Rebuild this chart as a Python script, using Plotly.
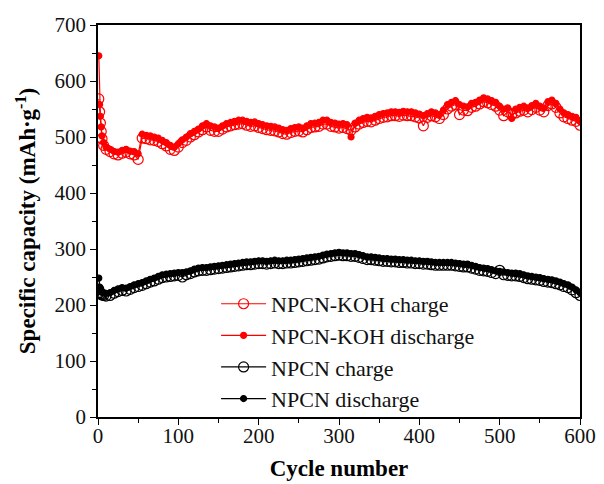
import plotly.graph_objects as go

# cycle numbers sampled along the curves
cycles = [1, 2, 3, 4, 5, 7] + list(range(10, 601, 5))

koh_charge = [
    568, 545, 525, 510, 497, 485,
    478, 474, 470, 468, 471, 473, 470, 468, 460, 498, 497, 495, 494, 492, 488, 484, 478, 476,
    482, 490, 494, 500, 504, 509, 513, 518, 512, 510, 510, 514, 518, 520, 522, 523, 524, 521, 519, 520,
    517, 515, 513, 512, 511, 509, 506, 505, 508, 510, 511, 509, 513, 517, 518, 519, 523, 523, 519, 518,
    516, 517, 515, 512, 518, 523, 526, 528, 527, 530, 533, 535, 536, 538, 538, 537, 539, 538, 538, 536,
    534, 520, 535, 538, 536, 533, 540, 550, 555, 558, 540, 548, 547, 553, 555, 559, 563, 561, 558, 555,
    548, 538, 545, 540, 543, 546, 548, 545, 549, 553, 548, 545, 556, 559, 553, 543, 536, 533, 530, 528,
    521,
]
koh_discharge = [
    645, 558, 537, 518, 502, 490,
    482, 478, 474, 473, 476, 478, 475, 474, 470, 505, 503, 502, 500, 498, 494, 490, 485, 482,
    488, 495, 500, 506, 510, 514, 520, 524, 520, 518, 516, 520, 524, 526, 528, 530, 530, 528, 526, 527,
    524, 522, 520, 519, 518, 516, 513, 512, 515, 517, 518, 516, 520, 524, 525, 526, 530, 530, 526, 525,
    523, 524, 522, 500, 525, 530, 533, 535, 534, 537, 540, 542, 543, 545, 545, 544, 546, 545, 545, 543,
    541, 538, 542, 545, 543, 540, 548, 558, 562, 565, 558, 555, 554, 560, 562, 566, 570, 568, 565, 562,
    555, 550, 552, 533, 550, 553, 555, 552, 556, 560, 555, 552, 563, 566, 560, 550, 543, 540, 537, 535,
    528,
]
npcn_charge = [
    228, 222, 220, 219, 218, 217,
    216, 217, 221, 224, 226, 225, 228, 231, 233, 235, 238, 241, 243, 246, 249, 250, 251, 252,
    253, 250, 254, 256, 259, 261, 262, 262, 263, 264, 265, 266, 267, 268, 269, 270, 271, 272, 272, 273,
    274, 274, 273, 274, 275, 274, 274, 275, 275, 276, 277, 278, 279, 280, 281, 282, 284, 286, 287, 288,
    289, 288, 288, 287, 287, 285, 283, 281, 281, 280, 279, 278, 278, 277, 277, 276, 276, 275, 275, 274,
    274, 273, 273, 272, 271, 271, 271, 271, 271, 270, 269, 268, 268, 266, 264, 262, 261, 260, 258, 256,
    262, 254, 253, 252, 252, 251, 249, 247, 246, 245, 244, 242, 241, 240, 238, 236, 233, 231, 227, 222,
    217,
]
npcn_discharge = [
    248, 232, 226, 224, 223, 222,
    221, 222, 226, 229, 231, 230, 233, 236, 238, 240, 243, 246, 248, 251, 254, 255, 256, 257,
    258, 258, 259, 261, 264, 266, 267, 267, 268, 269, 270, 271, 272, 273, 274, 275, 276, 277, 277, 278,
    279, 279, 278, 279, 280, 279, 279, 280, 280, 281, 282, 283, 284, 285, 286, 287, 289, 291, 292, 293,
    294, 293, 293, 292, 292, 290, 288, 286, 286, 285, 284, 283, 283, 282, 282, 281, 281, 280, 280, 279,
    279, 278, 278, 277, 276, 276, 276, 276, 276, 275, 274, 273, 273, 271, 269, 267, 266, 265, 263, 261,
    260, 259, 258, 257, 257, 256, 254, 252, 251, 250, 249, 247, 246, 245, 243, 241, 238, 236, 232, 227,
    222,
]

series_names = ["NPCN-KOH charge", "NPCN-KOH discharge", "NPCN charge", "NPCN discharge"]
x_ticks = [0, 100, 200, 300, 400, 500, 600]
y_ticks = [0, 100, 200, 300, 400, 500, 600, 700]

FONT = "'Liberation Serif', 'Times New Roman', serif"

fig = go.Figure()

def add(y, name, color, filled):
    fig.add_trace(go.Scatter(
        x=cycles, y=y, name=name, mode="lines+markers",
        line=dict(color=color, width=1.2),
        marker=dict(
            symbol="circle" if filled else "circle-open",
            size=6 if filled else 10,
            color=color,
            line=dict(color=color, width=1.2),
        ),
    ))

add(koh_charge, series_names[0], "#ff0000", False)
add(koh_discharge, series_names[1], "#ff0000", True)
add(npcn_charge, series_names[2], "#000000", False)
add(npcn_discharge, series_names[3], "#000000", True)

axis_common = dict(
    showline=True, linecolor="#000", linewidth=1.5, mirror=True,
    ticks="outside", ticklen=6, tickwidth=1.3, tickcolor="#000",
    showgrid=False, zeroline=False, automargin=False,
    tickfont=dict(family=FONT, size=21, color="#111"),
)

fig.update_xaxes(
    range=[0, 600], tickvals=x_ticks, ticklabelstandoff=-7,
    minor=dict(dtick=50, ticks="outside", ticklen=4, tickcolor="#000", tickwidth=1.3),
    title=dict(text="<b>Cycle number</b>", font=dict(family=FONT, size=23, color="#000"), standoff=13),
    **axis_common,
)
fig.update_yaxes(
    range=[0, 700], tickvals=y_ticks,
    minor=dict(dtick=50, ticks="outside", ticklen=4, tickcolor="#000", tickwidth=1.3),
    title=dict(text="<b>Specific capacity (mAh·g<sup>-1</sup>)</b>", font=dict(family=FONT, size=23, color="#000"), standoff=12),
    **axis_common,
)

fig.update_layout(
    width=596, height=476,
    margin=dict(l=90, r=24, t=17, b=67),
    paper_bgcolor="white", plot_bgcolor="white",
    font=dict(family=FONT),
    legend=dict(
        x=0.245, y=0.342, xanchor="left", yanchor="top",
        bgcolor="rgba(0,0,0,0)", borderwidth=0, itemwidth=45,
        font=dict(family=FONT, size=22, color="#111"),
        tracegroupgap=0,
    ),
)

fig.write_html("out.html")
